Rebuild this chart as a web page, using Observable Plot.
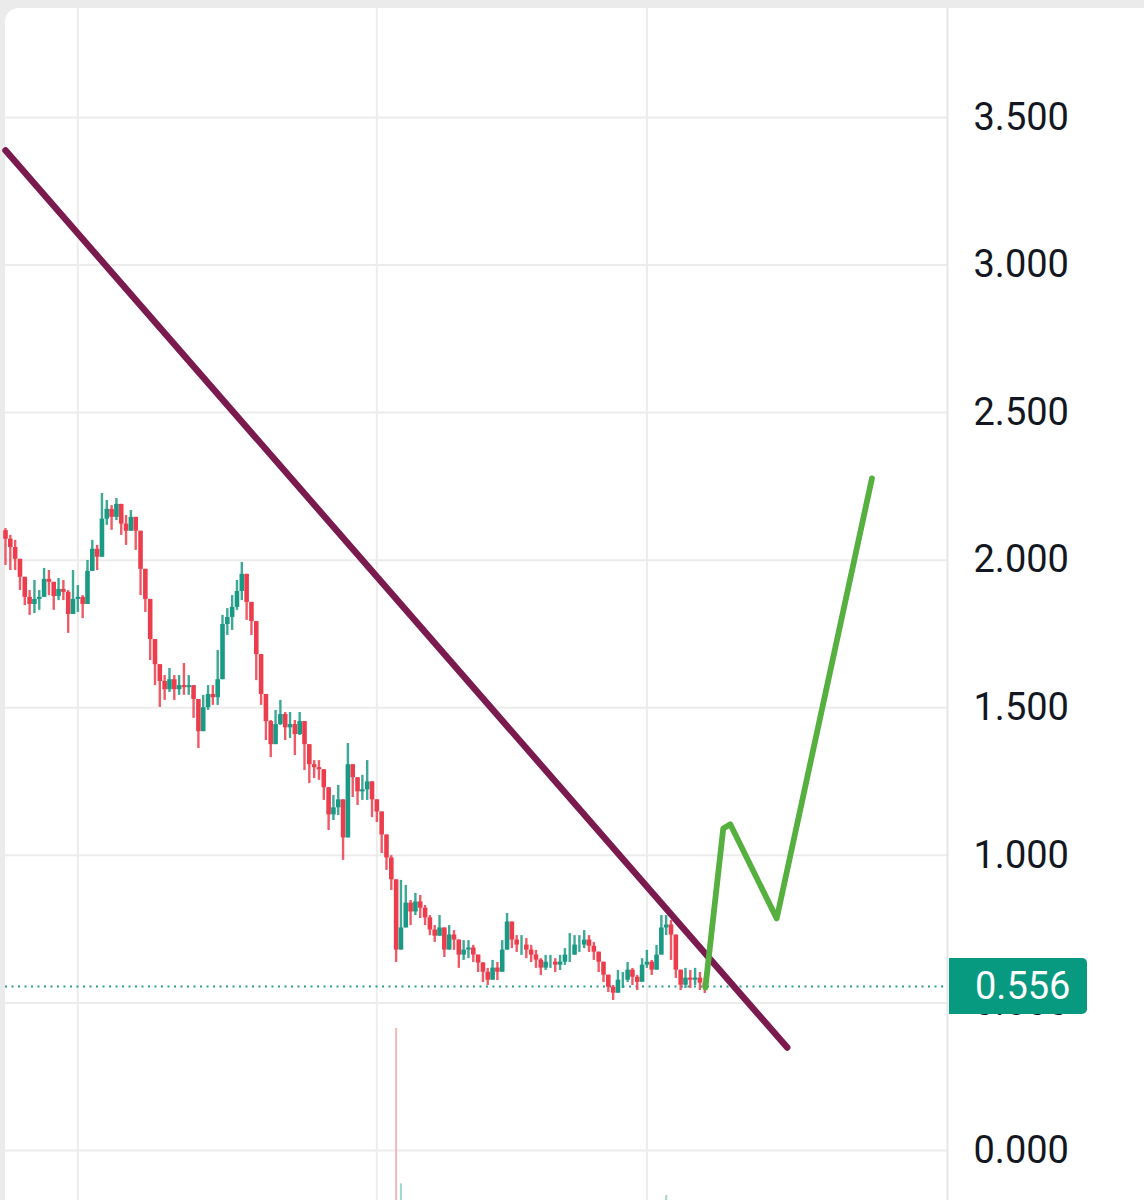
<!DOCTYPE html>
<html>
<head>
<meta charset="utf-8">
<script src="https://cdn.jsdelivr.net/npm/d3@7"></script>
<script src="https://cdn.jsdelivr.net/npm/@observablehq/plot@0.6"></script>
<style>
  html, body { margin: 0; padding: 0; overflow: hidden; background: #ebebeb; width: 1144px; height: 1200px; }
  #card { position: absolute; left: 5px; top: 8px; width: 1139px; height: 1192px; background: #ffffff; border-top-left-radius: 14px; }
  #chart { position: absolute; left: 0; top: 0; }
</style>
</head>
<body>
<div id="card"></div>
<div id="chart"></div>
<script>
// ---- Data ----
const firstCandle = "2022-12-24T12:00:00Z";   // 12h candles
const candleHours = 12;
const firstOpen = 2.10;
const closes = [
  2.071,2.043,2.003,1.942,1.874,1.850,1.867,1.874,1.935,1.925,
  1.877,1.901,1.891,1.816,1.867,1.874,1.850,1.962,2.037,2.010,
  2.139,2.172,2.145,2.189,2.122,2.098,2.145,2.098,1.969,1.867,
  1.731,1.646,1.589,1.561,1.595,1.561,1.575,1.568,1.575,1.528,
  1.419,1.500,1.545,1.534,1.595,1.782,1.806,1.840,1.894,1.952,
  1.857,1.792,1.680,1.545,1.453,1.375,1.443,1.477,1.432,1.443,
  1.409,1.453,1.375,1.307,1.297,1.290,1.229,1.137,1.161,1.188,
  1.059,1.307,1.263,1.215,1.222,1.249,1.188,1.147,1.069,0.991,
  0.917,0.679,0.754,0.838,0.808,0.842,0.821,0.788,0.747,0.726,
  0.754,0.679,0.730,0.713,0.662,0.679,0.686,0.662,0.635,0.604,
  0.577,0.618,0.604,0.679,0.774,0.713,0.696,0.696,0.679,0.662,
  0.645,0.618,0.638,0.638,0.628,0.638,0.662,0.662,0.696,0.696,
  0.713,0.692,0.672,0.638,0.594,0.553,0.533,0.577,0.577,0.611,
  0.587,0.570,0.628,0.638,0.611,0.662,0.754,0.764,0.730,0.611,
  0.560,0.584,0.577,0.584,0.567,0.556
];
const highs = [
  2.107,2.084,2.067,1.982,1.914,1.897,1.931,1.897,1.972,1.965,
  1.914,1.938,1.931,1.897,1.965,1.914,1.880,1.999,2.067,2.050,
  2.226,2.202,2.185,2.209,2.162,2.151,2.168,2.141,2.033,1.897,
  1.779,1.677,1.626,1.609,1.633,1.609,1.609,1.650,1.609,1.575,
  1.491,1.542,1.575,1.575,1.694,1.813,1.836,1.880,1.931,1.992,
  1.897,1.846,1.745,1.626,1.542,1.457,1.491,1.525,1.484,1.484,
  1.457,1.484,1.440,1.338,1.321,1.321,1.287,1.186,1.203,1.237,
  1.186,1.379,1.304,1.254,1.271,1.321,1.237,1.186,1.101,1.033,
  0.999,0.915,0.915,0.898,0.847,0.871,0.864,0.830,0.796,0.762,
  0.796,0.728,0.762,0.745,0.695,0.711,0.711,0.695,0.661,0.637,
  0.617,0.644,0.637,0.711,0.803,0.752,0.728,0.728,0.718,0.695,
  0.678,0.650,0.661,0.661,0.650,0.661,0.684,0.735,0.728,0.728,
  0.745,0.728,0.705,0.661,0.627,0.583,0.559,0.610,0.603,0.637,
  0.617,0.593,0.650,0.678,0.644,0.695,0.796,0.796,0.779,0.661,
  0.603,0.617,0.610,0.617,0.603,0.583
];
const lows = [
  1.982,1.965,1.965,1.897,1.846,1.813,1.819,1.830,1.891,1.880,
  1.830,1.863,1.863,1.752,1.846,1.823,1.802,1.897,1.982,1.965,
  2.050,2.118,2.101,2.134,2.084,2.050,2.101,2.033,1.880,1.823,
  1.660,1.575,1.501,1.525,1.552,1.525,1.542,1.542,1.542,1.464,
  1.362,1.457,1.491,1.508,1.508,1.711,1.745,1.762,1.830,1.863,
  1.796,1.745,1.592,1.508,1.389,1.331,1.389,1.440,1.389,1.396,
  1.338,1.406,1.287,1.243,1.260,1.254,1.186,1.084,1.118,1.135,
  0.983,1.186,1.196,1.169,1.186,1.186,1.128,1.111,1.006,0.949,
  0.881,0.637,0.695,0.813,0.762,0.796,0.786,0.762,0.728,0.705,
  0.728,0.654,0.695,0.678,0.617,0.644,0.650,0.637,0.603,0.569,
  0.559,0.583,0.576,0.637,0.711,0.684,0.671,0.661,0.650,0.637,
  0.617,0.593,0.610,0.617,0.603,0.610,0.627,0.637,0.661,0.671,
  0.684,0.671,0.644,0.603,0.569,0.535,0.508,0.549,0.549,0.569,
  0.559,0.542,0.593,0.617,0.593,0.617,0.678,0.728,0.644,0.583,
  0.542,0.549,0.549,0.559,0.542,0.532
];

// volume (candle index -> millions)
const volIdx  = [81,   82,  137];
const volVals = [58.0, 5.6, 1.7];

const lastPrice = 0.556;
const priceTicks = [0, 0.5, 1.0, 1.5, 2.0, 2.5, 3.0, 3.5];
const monthTicks = ["2023-01-01", "2023-02-01", "2023-03-01"];

// drawn trendline (purple) and projection (green)
const trendDates  = ["2022-12-24T12:00:00Z", "2023-03-15T13:00:00Z"];
const trendPrices = [3.388, 0.349];
const projDates  = ["2023-03-07T01:30:00Z", "2023-03-08T22:00:00Z", "2023-03-09T15:30:00Z", "2023-03-14T11:00:00Z", "2023-03-24T08:00:00Z"];
const projPrices = [0.552, 1.091, 1.105, 0.786, 2.277];

// ---- Build tables ----
const t0 = new Date(firstCandle).getTime();
const candles = closes.map((c, i) => {
  const o = i === 0 ? firstOpen : closes[i - 1];
  return {
    date: new Date(t0 + i * candleHours * 3600e3),
    open: o, close: c,
    high: Math.max(highs[i], o, c),
    low: Math.min(lows[i], o, c),
    up: c >= o
  };
});
const yDomain = [-0.1694, 3.869];
const volUnit = 0.01005; // price units per million (volume pane)
const volume = volIdx.map((k, j) => ({
  date: candles[k].date, v: volVals[j], up: candles[k].up,
  top: yDomain[0] + volVals[j] * volUnit
}));
const trend = trendDates.map((d, j) => ({date: new Date(d), p: trendPrices[j]}));
const proj = projDates.map((d, j) => ({date: new Date(d), p: projPrices[j]}));

const UP = "#1a9a84", DOWN = "#ec3d4c";

const chart = Plot.plot({
  width: 1144,
  height: 1200,
  marginLeft: 5,
  marginRight: 197,
  marginTop: 8,
  marginBottom: 0,
  style: {background: "transparent", overflow: "visible", fontFamily: "Roboto, sans-serif", fontSize: "38px"},
  x: {type: "utc", domain: [new Date("2022-12-24T12:00:00Z"), new Date("2023-04-01T04:00:00Z")], axis: null},
  y: {domain: yDomain, axis: null},
  marks: [
    Plot.gridY(priceTicks, {stroke: "#ececec", strokeOpacity: 1, strokeWidth: 2}),
    Plot.gridX(monthTicks.map(d => new Date(d)), {stroke: "#ececec", strokeOpacity: 1, strokeWidth: 2}),
    Plot.frame({anchor: "right", stroke: "#e6e6e6", strokeWidth: 2}),
    Plot.axisY(priceTicks, {
      anchor: "right", tickSize: 0, tickPadding: 26,
      tickFormat: d3.format(".3f"), fontSize: 38, fill: "#131722", textAnchor: "start"
    }),
    Plot.ruleX(volume, {x: "date", y1: yDomain[0], y2: "top", stroke: d => d.up ? "#9fd8cf" : "#f0b8b8", strokeWidth: 2}),
    Plot.ruleY([lastPrice], {stroke: "#2a9d8f", strokeWidth: 2, strokeDasharray: "2,4.5"}),
    Plot.ruleX(candles, {x: "date", y1: "low", y2: "high", stroke: d => d.up ? UP : DOWN, strokeWidth: 2.4, strokeOpacity: 0.85}),
    Plot.ruleX(candles, {x: "date", y1: "open", y2: "close", stroke: d => d.up ? UP : DOWN, strokeWidth: 4.6}),
    Plot.line(trend, {x: "date", y: "p", stroke: "#7b1a4f", strokeWidth: 6.5, strokeLinecap: "round"}),
    Plot.line(proj, {x: "date", y: "p", stroke: "#55b03f", strokeWidth: 5.8, strokeLinecap: "round", strokeLinejoin: "round"})
  ]
});

// price label on the axis
const svg = d3.select(chart);
const yPx = chart.scale("y").apply(lastPrice);
const xr = 1144 - 197;
const g = svg.append("g");
g.append("path")
  .attr("d", `M${xr + 2},${yPx - 28}H${xr + 135}a5,5 0 0 1 5,5V${yPx + 23}a5,5 0 0 1 -5,5H${xr + 2}Z`)
  .attr("fill", "#089981");
g.append("text")
  .attr("x", xr + 28).attr("y", yPx)
  .attr("dy", "0.35em")
  .attr("text-anchor", "start")
  .attr("fill", "#ffffff")
  .attr("font-size", 38)
  .attr("font-family", "Roboto, sans-serif")
  .text(d3.format(".3f")(lastPrice));

document.getElementById("chart").appendChild(chart);
</script>
</body>
</html>
